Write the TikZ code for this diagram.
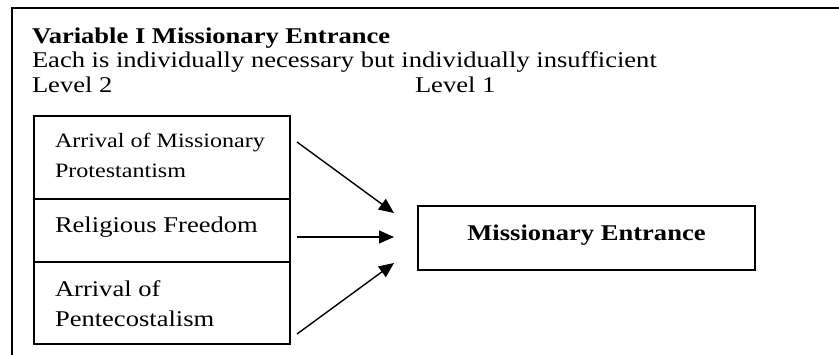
\documentclass[tikz,border=0pt]{standalone}
\usepackage{fontspec}
\setmainfont{Liberation Serif}[FakeStretch=1.18]
\usetikzlibrary{arrows.meta,calc}

\tikzset{
  frameline/.style={line width=1.6pt},
  box/.style={draw, line width=1.6pt, inner sep=0pt, outer sep=0pt},
  txt/.style={anchor=base west, inner sep=0pt, outer sep=0pt, font=\bodyfont},
  smalltxt/.style={txt, font=\smallfont},
  link/.style={line width=1.4pt, -{Triangle[length=15pt,width=13pt]}}
}
\newcommand{\bodyfont}{\fontsize{22.5}{24}\selectfont}
\newcommand{\smallfont}{\fontsize{20.4}{30}\selectfont}

\begin{document}
\begin{tikzpicture}[x=1pt,y=-1pt]
\useasboundingbox (0,0) rectangle (839,355);

% open outer frame
\draw[frameline] (12,355) -- (12,8) -- (839,8);

% heading
\node[txt, font=\bodyfont\bfseries] (title) at (32,44) {Variable I Missionary Entrance};
\node[txt] (note) at (32,68) {Each is individually necessary but individually insufficient};
\node[txt] (lev2) at (32,93) {Level 2};
\node[txt] (lev1) at (415,93) {Level 1};

% level 2 conditions
\node[box, minimum width=256pt, minimum height=83pt, anchor=north west] (b1) at (34,116) {};
\node[box, minimum width=256pt, minimum height=63pt, anchor=north west] (b2) at (34,199) {};
\node[box, minimum width=256pt, minimum height=82pt, anchor=north west] (b3) at (34,262) {};

\node[smalltxt] (b1a) at (55,148) {Arrival of Missionary};
\node[smalltxt] (b1b) at (55,178) {Protestantism};
\node[txt] (b2a) at (55,233) {Religious Freedom};
\node[txt] (b3a) at (55,297) {Arrival of};
\node[txt] (b3b) at (55,327) {Pentecostalism};

% level 1 outcome
\node[box, minimum width=337pt, minimum height=64pt] (me) at (586.5,238) {};
\node[anchor=base, inner sep=0pt, font=\bodyfont\bfseries] (mea) at (586.5,241) {Missionary Entrance};

% connectors
\coordinate (s1) at ($(b1.east)+(7,-15.5)$);
\coordinate (s2) at ($(b2.east)+(7,6.5)$);
\coordinate (s3) at ($(b3.east)+(7,31)$);
\coordinate (e1) at ($(me.west)+(-24,-25)$);
\coordinate (e2) at ($(me.west)+(-24,-1)$);
\coordinate (e3) at ($(me.west)+(-24,25)$);
\draw[link] (s1) -- (e1);
\draw[link] (s2) -- (e2);
\draw[link] (s3) -- (e3);
\end{tikzpicture}
\end{document}
